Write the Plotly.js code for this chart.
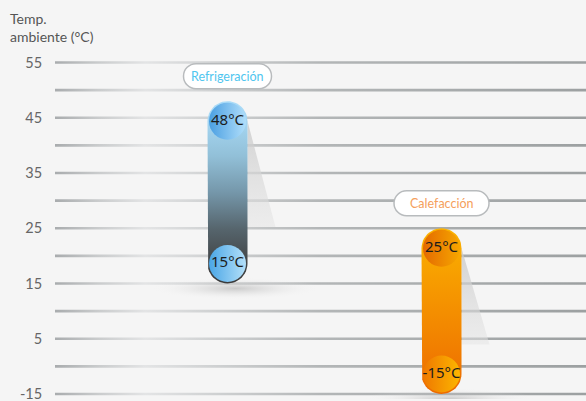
<!DOCTYPE html>
<html><head><meta charset="utf-8">
<script src="https://cdn.plot.ly/plotly-3.0.1.min.js"></script>
<style>html,body{margin:0;padding:0;background:#f5f5f5;}</style>
</head><body><div id="chart" style="width:586px;height:401px;"></div>
<script>
// ---- data ----
const categories = ["Refrigeración", "Calefacción"];
const maxTemps = [48, 25];
const minTemps = [15, -15];
const maxLabels = ["48°C", "25°C"];
const minLabels = ["15°C", "-15°C"];
const tickValues = [55, 45, 35, 25, 15, 5, -15];
const tickLabels = ["55", "45", "35", "25", "15", "5", "-15"];
const gridValues = [55, 50, 45, 40, 35, 30, 25, 20, 15, 10, 5, -5, -15];
const axisTitle = "Temp.<br>ambiente (°C)";

// axis break below 5 °C: 20 °C drawn in 10 axis units
function ax(v) { return v >= 5 ? v : 5 + (v - 5) / 2; }

// ---- layout geometry ----
const W = 586, H = 401, M = {l: 55, r: 0, t: 38, b: 2};
const plotW = W - M.l - M.r, plotH = H - M.t - M.b;
const yRange = [-5.905, 59.434];
const xRange = [-0.8061, 1.6752];
const ySc = plotH / (yRange[1] - yRange[0]);
const xSc = plotW / (xRange[1] - xRange[0]);
const R = 20; // capsule radius px

const barScales = [
  [[0, '#3a3a3a'], [0.12, '#434648'], [0.3, '#56656d'], [0.5, '#7597aa'], [0.7, '#92c0d8'], [0.88, '#a4d5f1'], [1, '#abdcf8']],
  [[0, '#ed6a00'], [0.35, '#f28400'], [0.7, '#f79d00'], [1, '#fbb300']]
];
// per bar: [top circle, bottom circle]
const circleLeft = [['#4a9fe2', '#4aa6e6'], ['#e46a00', '#ef7800']];
const circleRight = [['#b0defa', '#b4e0f9'], ['#f6a600', '#fcb600']];
const pillText = ['#4fc6ef', '#f5a05c'];
const pillW = [88, 95];

const traces = [];

// gridlines
(function () {
  const xs = [], ys = [], th = 2.6 / ySc;
  gridValues.forEach(g => {
    const y = ax(g);
    xs.push(xRange[0], xRange[1], xRange[1], xRange[0], xRange[0], null);
    ys.push(y - th / 2, y - th / 2, y + th / 2, y + th / 2, y - th / 2, null);
  });
  traces.push({type: 'scatter', mode: 'lines', x: xs, y: ys, fill: 'toself', line: {width: 0},
    fillgradient: {type: 'horizontal', colorscale: [[0, '#a9acae'], [0.08, '#c9cbcc'], [0.17, '#e3e4e5'], [0.3, '#cfd1d2'], [0.5, '#b3b6b7'], [1, '#9ca0a1']]},
    hoverinfo: 'skip', showlegend: false});
})();

function ellipse(cx, cy, rxp, ryp) {
  const xs = [], ys = [];
  for (let k = 0; k <= 48; k++) {
    const a = k / 48 * 2 * Math.PI;
    xs.push(cx + rxp * Math.cos(a) / xSc); ys.push(cy + ryp * Math.sin(a) / ySc);
  }
  return {xs, ys};
}

function capsule(cx, top, bot) {
  const xs = [], ys = [], rx = R / xSc, ry = R / ySc, ct = top - ry, cb = bot + ry;
  for (let k = 0; k <= 24; k++) { const a = k / 24 * Math.PI; xs.push(cx + rx * Math.cos(a)); ys.push(ct + ry * Math.sin(a)); }
  for (let k = 0; k <= 24; k++) { const a = Math.PI + k / 24 * Math.PI; xs.push(cx + rx * Math.cos(a)); ys.push(cb + ry * Math.sin(a)); }
  xs.push(xs[0]); ys.push(ys[0]);
  return {xs, ys};
}

categories.forEach((c, i) => {
  const top = ax(maxTemps[i]), bot = ax(minTemps[i]);
  const lenPx = (top - bot) * ySc;
  // floor shadow
  const e = ellipse(i + 8 / xSc, bot - 5 / ySc, 85, 11);
  traces.push({type: 'scatter', mode: 'lines', x: e.xs, y: e.ys, fill: 'toself', line: {width: 0},
    fillgradient: {type: 'radial', colorscale: [[0, 'rgba(160,160,160,0.5)'], [0.5, 'rgba(200,200,200,0.25)'], [1, 'rgba(245,245,245,0)']]},
    hoverinfo: 'skip', showlegend: false});
  // side shadow
  const xr = i + R / xSc, yc = top - R / ySc, drop = 0.58 * lenPx / ySc;
  traces.push({type: 'scatter', mode: 'lines',
    x: [xr, xr + 28 / xSc, xr, xr], y: [yc, yc - drop, yc - drop, yc],
    fill: 'toself', line: {width: 0},
    fillgradient: {type: 'vertical', colorscale: [[0, 'rgba(228,228,228,0.5)'], [1, 'rgba(200,200,200,0.8)']]},
    hoverinfo: 'skip', showlegend: false});
  // capsule
  const cp = capsule(i, top, bot);
  traces.push({type: 'scatter', mode: 'lines', x: cp.xs, y: cp.ys, fill: 'toself', line: {width: 0},
    fillgradient: {type: 'vertical', colorscale: barScales[i]}, hoverinfo: 'skip', showlegend: false});
  // end circles + labels
  traces.push({type: 'scatter', mode: 'markers+text', x: [i, i],
    y: [top - R / ySc, bot + R / ySc], text: [maxLabels[i], minLabels[i]],
    textposition: 'middle center', textfont: {family: 'Noto Sans, DejaVu Sans, sans-serif', size: 15, color: '#1c1c1c'},
    marker: {size: 37, color: circleLeft[i], line: {width: 0}, gradient: {type: 'horizontal', color: circleRight[i]}},
    hoverinfo: 'skip', showlegend: false});
});

function pill(w, h, oy) {
  const r = h / 2, k = 0.5523 * r, x0 = -w / 2 + r, x1 = w / 2 - r, yT = oy + r, yB = oy - r;
  return `M${x0},${yT} L${x1},${yT} C${x1 + k},${yT} ${x1 + r},${oy + k} ${x1 + r},${oy} C${x1 + r},${oy - k} ${x1 + k},${yB} ${x1},${yB} L${x0},${yB} C${x0 - k},${yB} ${x0 - r},${oy - k} ${x0 - r},${oy} C${x0 - r},${oy + k} ${x0 - k},${yT} ${x0},${yT} Z`;
}

const shapes = categories.map((c, i) => ({
  type: 'path', xref: 'x', yref: 'y', xsizemode: 'pixel', ysizemode: 'pixel',
  xanchor: i, yanchor: ax(maxTemps[i]), path: pill(pillW[i], 25, 25),
  fillcolor: '#ffffff', line: {color: '#b8bbbd', width: 1.5}
}));

const annotations = categories.map((c, i) => ({
  x: i, y: ax(maxTemps[i]), xref: 'x', yref: 'y', yshift: 25, text: c, showarrow: false,
  font: {family: 'Lato, Open Sans, sans-serif', size: 12.5, color: pillText[i]}
}));
annotations.push({xref: 'paper', yref: 'paper', x: 0, y: 1, xshift: -47, yshift: 30, xanchor: 'left', yanchor: 'top',
  align: 'left', text: axisTitle, showarrow: false, font: {family: 'Lato, Open Sans, sans-serif', size: 14, color: '#555555'}});

const layout = {
  width: W, height: H, margin: M,
  paper_bgcolor: '#f5f5f5', plot_bgcolor: '#f5f5f5',
  xaxis: {range: xRange, visible: false, fixedrange: true},
  yaxis: {range: yRange, showgrid: false, zeroline: false, showline: false,
    tickvals: tickValues.map(ax), ticktext: tickLabels, ticks: 'outside', ticklen: 9, tickcolor: 'rgba(0,0,0,0)',
    ticklabeloverflow: 'allow',
    tickfont: {family: 'Lato, Open Sans, sans-serif', size: 14.5, color: '#666666'}, fixedrange: true},
  shapes: shapes, annotations: annotations, showlegend: false
};

Plotly.newPlot('chart', traces, layout, {staticPlot: true, displayModeBar: false});
</script></body></html>
